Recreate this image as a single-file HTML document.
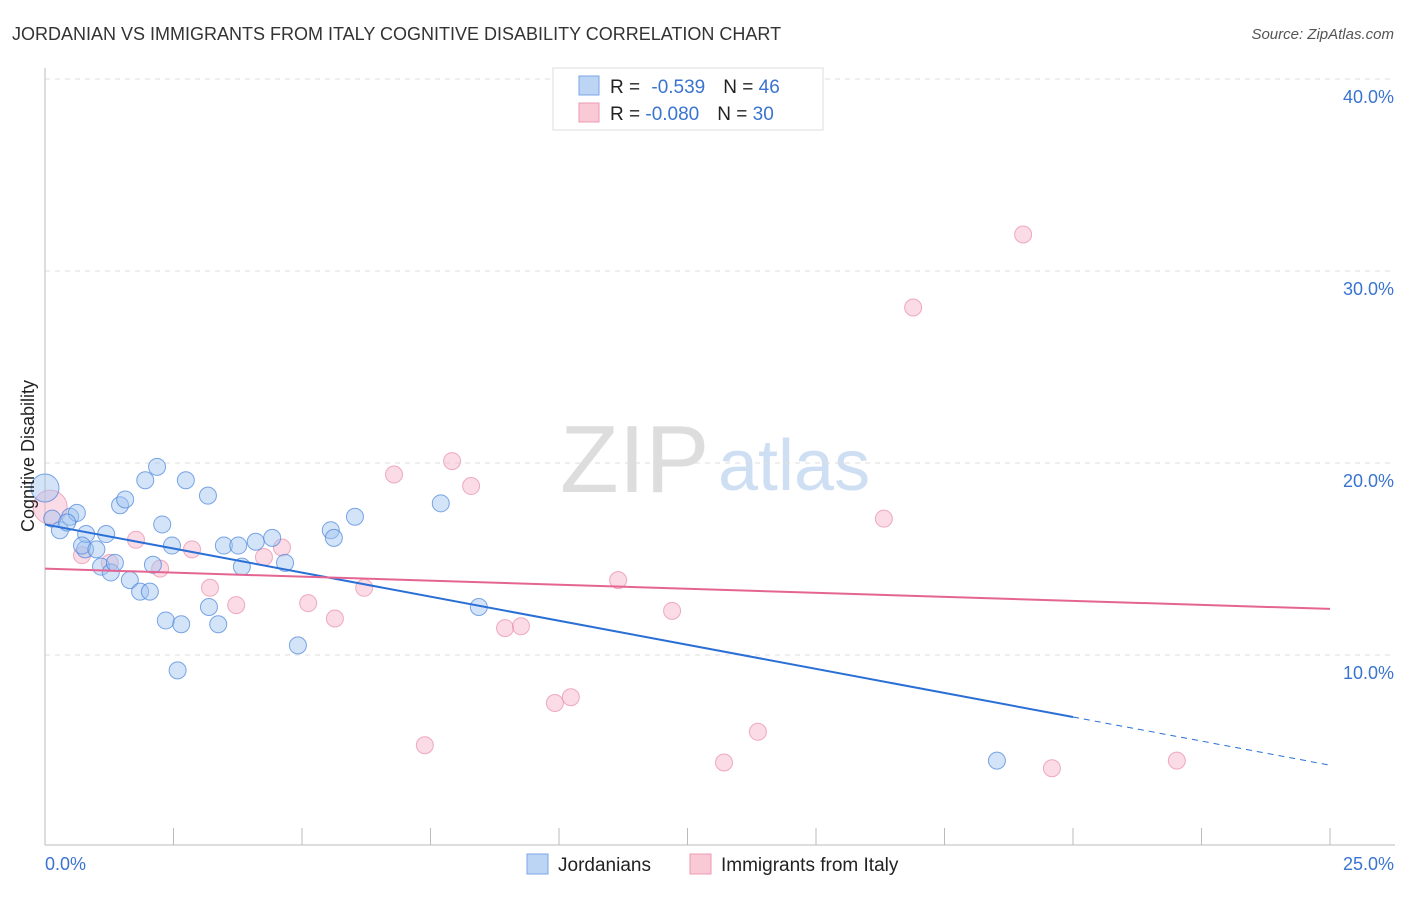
<!DOCTYPE html>
<html><head><meta charset="utf-8"><style>
body{margin:0;background:#fff;font-family:"Liberation Sans",sans-serif;}
svg text{font-family:"Liberation Sans",sans-serif;}
</style></head><body>
<svg width="1406" height="892" xmlns="http://www.w3.org/2000/svg">
<text x="12" y="40" font-size="18" fill="#333">JORDANIAN VS IMMIGRANTS FROM ITALY COGNITIVE DISABILITY CORRELATION CHART</text>
<text x="1394" y="39" font-size="15" fill="#555" font-style="italic" text-anchor="end">Source: ZipAtlas.com</text>
<text x="560" y="492" font-size="96" fill="#ddd" font-family="Liberation Serif">ZIP</text>
<text x="718" y="490" font-size="72" fill="#cfdff3">atlas</text>
<g id="grid"></g>
<g id="axes"></g>
<g id="pts"></g>
<g id="lines"></g>
<text transform="translate(34,456) rotate(-90)" font-size="18" fill="#222" text-anchor="middle">Cognitive Disability</text>
<text x="45" y="870" font-size="18" fill="#3a74d0">0.0%</text>
<text x="1394" y="870" font-size="18" fill="#3a74d0" text-anchor="end">25.0%</text>
<g>
<rect x="553" y="68" width="270" height="62" fill="#fff" stroke="#ddd"/>
<rect x="579" y="76" width="20" height="19" fill="#bcd5f5" stroke="#7aa6e6"/>
<rect x="579" y="103" width="20" height="19" fill="#f9c9d6" stroke="#eb9ab2"/>
<text x="610" y="93" font-size="19" fill="#222">R = <tspan fill="#3a74d0" dx="6">-0.539</tspan><tspan dx="18" fill="#222">N = </tspan><tspan fill="#3a74d0">46</tspan></text>
<text x="610" y="120" font-size="19" fill="#222">R = <tspan fill="#3a74d0">-0.080</tspan><tspan dx="18" fill="#222">N = </tspan><tspan fill="#3a74d0">30</tspan></text>
</g>
<g>
<rect x="527" y="854" width="21" height="20" fill="#bcd5f5" stroke="#7aa6e6"/>
<text x="558" y="871" font-size="19" fill="#222">Jordanians</text>
<rect x="690" y="854" width="21" height="20" fill="#f9c9d6" stroke="#eb9ab2"/>
<text x="721" y="871" font-size="19" fill="#222">Immigrants from Italy</text>
</g>
</svg>
<script>
const yTicks=[10,20,30,40];
const xTicks=[0,2.5,5,7.5,10,12.5,15,17.5,20,22.5,25];
const blueX=[0,0.14,0.29,0.49,0.62,0.43,0.78,0.80,0.72,1.00,1.09,1.19,1.28,1.36,1.46,1.56,1.65,1.85,1.95,2.04,2.10,2.18,2.28,2.35,2.47,2.58,2.65,2.74,3.17,3.19,3.37,3.48,3.76,3.83,4.10,4.42,4.67,4.92,5.56,5.62,6.03,7.70,8.44,18.52];
const blueY=[18.7,17.1,16.5,17.2,17.4,16.9,15.5,16.3,15.7,15.5,14.6,16.3,14.3,14.8,17.8,18.1,13.9,13.3,19.1,13.3,14.7,19.8,16.8,11.8,15.7,9.2,11.6,19.1,18.3,12.5,11.6,15.7,15.7,14.6,15.9,16.1,14.8,10.5,16.5,16.1,17.2,17.9,12.5,4.5];
const pinkX=[0.10,0.72,1.26,1.77,2.24,2.86,3.21,3.72,4.26,4.61,5.12,5.64,6.21,6.79,7.39,7.92,8.29,8.95,9.26,9.92,10.23,11.15,12.20,13.21,13.87,16.32,16.89,19.03,19.59,22.02];
const pinkY=[17.7,15.2,14.8,16.0,14.5,15.5,13.5,12.6,15.1,15.6,12.7,11.9,13.5,19.4,5.3,20.1,18.8,11.4,11.5,7.5,7.8,13.9,12.3,4.4,6.0,17.1,28.1,31.9,4.1,4.5];
const blueTrend=[16.8,6.77];
const blueTrendX=[0,20,25];
const pinkTrend=[14.5,12.4];
const NS='http://www.w3.org/2000/svg';
const sx=v=>45+v*1285/25;
const sy=v=>847-v*19.2;
function mk(t,a,p){const e=document.createElementNS(NS,t);for(const k in a)e.setAttribute(k,a[k]);document.getElementById(p).appendChild(e);return e;}
yTicks.forEach(t=>{
 const l=mk('line',{x1:45,x2:1395,y1:sy(t),y2:sy(t),stroke:'#ddd','stroke-dasharray':'5,5'},'grid');
 
 
 const tx=mk('text',{x:1394,y:sy(t)+24,'font-size':18,fill:'#3a74d0','text-anchor':'end'},'grid');
 tx.textContent=t.toFixed(1)+'%';
 
 
});
let ax=mk('line',{x1:45,x2:45,y1:68,y2:845,stroke:'#bbb'},'axes');


ax=mk('line',{x1:45,x2:1395,y1:845,y2:845,stroke:'#bbb'},'axes');


xTicks.forEach(t=>{
 const l=mk('line',{x1:sx(t),x2:sx(t),y1:828,y2:845,stroke:'#bbb'},'axes');
 
 
});
pinkX.forEach((x,i)=>{
 const c=mk('circle',{cx:sx(x),cy:sy(pinkY[i]),r:i==0?17:8.5,fill:'rgba(246,176,198,0.45)',stroke:'rgba(232,140,170,0.7)'},'pts');
 
 
});
blueX.forEach((x,i)=>{
 const c=mk('circle',{cx:sx(x),cy:sy(blueY[i]),r:i==0?14:8.5,fill:'rgba(160,196,240,0.45)',stroke:'rgba(70,130,220,0.7)'},'pts');
 
 
});
const bAt=x=>blueTrend[0]+(blueTrend[1]-blueTrend[0])*x/blueTrendX[1];
let tl=mk('line',{x1:sx(blueTrendX[0]),y1:sy(bAt(blueTrendX[0])),x2:sx(blueTrendX[1]),y2:sy(bAt(blueTrendX[1])),stroke:'#2a6fd6','stroke-width':2},'lines');


tl=mk('line',{x1:sx(blueTrendX[1]),y1:sy(bAt(blueTrendX[1])),x2:sx(blueTrendX[2]),y2:sy(bAt(blueTrendX[2])),stroke:'#2a6fd6','stroke-width':1,'stroke-dasharray':'6,5'},'lines');


tl=mk('line',{x1:sx(0),y1:sy(pinkTrend[0]),x2:sx(25),y2:sy(pinkTrend[1]),stroke:'#e46592','stroke-width':2},'lines');


</script>
</body></html>
